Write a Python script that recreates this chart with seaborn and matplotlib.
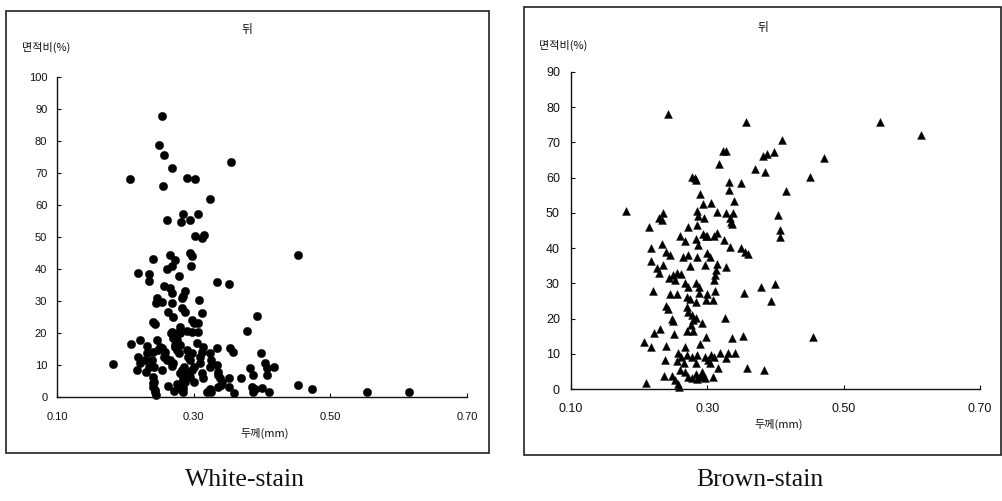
import matplotlib
matplotlib.use("Agg")
import matplotlib.pyplot as plt
import seaborn as sns
import pandas as pd
from matplotlib.patches import Rectangle

# ---------------- data ----------------
white_x = [0.254,0.250,0.257,0.268,0.354,0.207,0.290,0.302,0.255,0.324,0.285,0.307,0.261,0.282,0.295,
           0.302,0.312,0.315,0.266,0.294,0.297,0.453,0.240,0.272,0.268,0.261,0.296,0.235,0.235,0.218,
           0.278,0.334,0.351,0.257,0.265,0.268,0.287,0.284,0.283,0.246,0.245,0.253,0.308,0.268,0.283,
           0.287,0.263,0.312,0.270,0.297,0.300,0.307,0.392,0.240,0.243,0.378,0.280,0.279,0.290,0.297,
           0.268,0.307,
           0.182,0.208,0.221,0.217,0.219,0.221,0.231,0.230,0.231,0.229,0.234,0.247,0.251,0.240,0.239,
           0.242,0.242,0.241,0.244,0.245,0.248,0.253,0.258,0.261,0.254,0.257,0.258,0.265,0.268,0.270,
           0.267,0.270,0.275,0.273,0.280,0.280,0.275,0.278,0.280,0.284,0.286,0.280,0.284,0.283,0.285,
           0.287,0.290,0.283,0.290,0.292,0.295,0.297,0.300,0.292,0.295,0.297,0.300,0.305,0.309,0.312,
           0.314,0.309,0.312,0.314,0.324,0.326,0.334,0.324,0.334,0.335,0.336,0.339,0.341,0.340,0.353,
           0.358,0.351,0.351,0.359,0.324,0.319,0.326,0.336,0.370,0.383,0.387,0.399,0.405,0.407,0.408,
           0.417,0.385,0.390,0.387,0.400,0.410,0.453,0.473,0.554,0.615,0.241,0.240,0.243,0.273,0.285,
           0.263,0.271,0.276]
white_y = [87.9,78.7,75.5,71.6,73.5,68.1,68.3,68.1,66.0,61.9,57.3,57.3,55.4,54.7,55.4,
           50.2,49.6,50.6,44.4,45.0,44.2,44.4,43.0,42.8,41.0,40.0,41.0,38.4,36.2,38.8,
           37.8,35.9,35.3,34.7,34.0,32.4,33.2,31.7,30.8,30.8,29.3,29.8,30.3,29.3,27.7,
           26.7,26.7,26.2,25.1,24.1,23.0,23.2,25.3,23.5,22.8,20.7,22.0,20.4,20.7,20.4,
           20.4,20.4,
           10.2,16.5,17.8,8.4,12.6,10.5,15.9,7.7,13.6,11.6,9.5,17.8,15.7,14.2,11.6,
           9.5,4.8,3.2,1.7,0.6,14.7,15.2,12.6,11.6,8.4,12.6,14.2,11.6,9.8,10.5,
           19.9,18.3,17.8,15.7,16.3,19.9,14.7,13.6,7.4,5.3,9.5,2.7,1.7,8.4,6.4,
           4.8,6.9,2.2,14.7,12.6,11.6,13.6,9.5,7.4,6.4,8.4,4.8,16.8,12.6,14.2,
           15.7,10.5,7.4,5.8,13.6,11.6,15.2,9.5,10.0,7.9,6.9,5.8,4.8,3.75,15.2,
           14.2,5.8,3.2,1.2,2.4,1.7,1.7,3.2,6.0,9.0,6.9,13.9,10.5,9.0,6.9,
           9.3,3.2,2.4,1.7,2.7,1.7,3.75,2.4,1.7,1.7,6.4,4.3,2.2,16.3,2.7,
           3.5,2.0,4.0]

brown_x = [0.242,0.357,0.553,0.614,0.409,0.323,0.328,0.382,0.388,0.398,0.471,0.317,0.370,0.384,0.278,
           0.282,0.284,0.451,0.332,0.349,0.332,0.416,0.289,0.339,0.294,0.306,0.180,0.285,0.314,0.235,
           0.328,0.338,0.403,0.229,0.233,0.287,0.295,0.333,0.335,0.215,0.271,0.285,0.336,0.407,0.406,
           0.260,0.267,0.283,0.293,0.298,0.300,0.310,0.314,0.325,0.233,0.218,0.286,0.333,0.350,0.355,
           0.360,0.240,0.245,0.264,0.272,0.285,0.300,0.304,0.218,0.235,0.226,0.229,0.274,0.296,0.314,
           0.313,0.311,0.310,0.328,0.244,0.250,0.256,0.262,0.252,0.267,0.272,0.284,0.288,0.221,0.245,
           0.256,0.270,0.275,0.283,0.288,0.300,0.311,0.298,0.308,0.354,0.378,0.399,0.393,0.239,0.243,
           0.270,0.272,0.248,0.250,0.277,0.279,0.283,0.292,0.276,0.279,0.270,0.326,0.230,0.222,0.251,
           0.298,0.289,0.336,0.352,0.455,0.207,0.218,0.240,0.267,0.257,0.262,0.270,0.277,0.285,0.296,
           0.301,0.306,0.310,0.318,0.331,0.340,0.238,0.255,0.266,0.284,0.304,0.315,0.327,0.358,0.383,
           0.260,0.267,0.272,0.277,0.284,0.289,0.292,0.294,0.296,0.285,0.309,0.237,0.248,0.252,0.257,
           0.259,0.210]
brown_y = [78.0,75.8,75.8,72.2,70.7,67.6,67.6,66.2,66.7,67.2,65.7,63.8,62.4,61.6,60.3,
           59.9,59.4,60.1,58.9,58.6,56.5,56.1,55.3,53.3,52.6,52.8,50.4,50.4,50.2,49.9,
           49.9,50.1,49.4,48.5,48.0,49.0,48.5,48.5,47.3,46.1,46.1,46.6,46.9,45.2,43.1,
           43.5,42.1,42.5,44.0,43.3,43.3,43.5,44.4,42.3,41.2,39.9,40.8,40.4,40.0,39.0,
           38.4,39.0,38.1,37.6,38.1,37.6,38.5,37.6,36.4,35.2,34.3,32.9,34.9,35.2,35.5,
           33.8,32.4,31.0,34.7,31.4,32.4,33.0,32.7,31.0,30.2,29.1,30.0,29.1,27.8,26.9,
           26.9,26.2,25.5,24.8,27.2,27.0,27.8,25.3,25.3,27.2,28.9,29.7,25.1,23.6,22.6,
           23.4,22.0,19.8,19.4,21.0,19.6,20.1,18.8,18.2,16.6,16.6,20.1,17.0,16.0,15.6,
           14.9,12.8,14.4,15.1,14.7,13.3,12.0,12.2,11.8,10.1,9.2,9.7,9.2,9.7,9.2,
           8.2,9.7,9.2,10.1,10.1,10.1,8.2,8.0,7.3,7.3,7.3,5.9,8.7,6.1,5.4,
           5.4,4.9,3.5,3.0,4.4,3.5,4.9,4.0,3.0,2.8,3.5,3.7,3.7,2.6,1.4,
           0.7,1.8]

x_ticks = [0.10, 0.30, 0.50, 0.70]
x_tick_labels = ["0.10", "0.30", "0.50", "0.70"]
white_y_ticks = list(range(0, 101, 10))
brown_y_ticks = list(range(0, 91, 10))
panel_title = "뒤"
y_label = "면적비(%)"
x_label = "두께(mm)"
captions = ["White-stain", "Brown-stain"]

# ---------------- figure ----------------
sns.set_theme(style="white")
plt.rcParams['font.family'] = ['Liberation Sans', 'Noto Sans CJK KR', 'DejaVu Sans']

W, H = 1003, 501
fig = plt.figure(figsize=(W / 100, H / 100), dpi=100)
fig.patch.set_facecolor("white")

def px_axes(x0, y0, x1, y1):
    return fig.add_axes([x0 / W, 1 - y1 / H, (x1 - x0) / W, (y1 - y0) / H])

def frame(x0, y0, x1, y1):
    fig.patches.append(Rectangle((x0 / W, 1 - y1 / H), (x1 - x0) / W, (y1 - y0) / H,
                                 transform=fig.transFigure, fill=False,
                                 edgecolor="#222222", linewidth=1.2))

cjk = ['Noto Sans CJK KR', 'DejaVu Sans']

def style_axes(ax, yticks, ymax, ypad, xpad, fs):
    ax.set_xlim(0.10, 0.70)
    ax.set_ylim(0, ymax)
    ax.set_xticks(x_ticks)
    ax.set_xticklabels(x_tick_labels)
    ax.set_yticks(yticks)
    ax.set_yticklabels([str(v) for v in yticks])
    for s in ["top", "right"]:
        ax.spines[s].set_visible(False)
    for s in ["left", "bottom"]:
        ax.spines[s].set_color("#111111")
        ax.spines[s].set_linewidth(1.0)
    ax.tick_params(axis="y", direction="in", length=3, width=0.8, pad=ypad,
                   labelsize=fs, colors="#111111", left=True)
    ax.tick_params(axis="x", direction="in", length=3, width=0.8, pad=xpad,
                   labelsize=fs, colors="#111111", bottom=True)
    ax.set_xlabel("")
    ax.set_ylabel("")
    ax.set_facecolor("white")
    ax.grid(False)

# Left panel (White-stain)
frame(6, 11, 489, 453)
axL = px_axes(57, 77, 467, 397)
dfL = pd.DataFrame({"x": white_x, "y": white_y})
sns.scatterplot(data=dfL, x="x", y="y", ax=axL, color="black", marker="o",
                s=36, edgecolor="black", linewidth=0.3, clip_on=False)
style_axes(axL, white_y_ticks, 100, 7, 11, 8)

# Right panel (Brown-stain)
frame(524, 7, 1001, 455)
axR = px_axes(571, 72, 980, 389)
dfR = pd.DataFrame({"x": brown_x, "y": brown_y})
sns.scatterplot(data=dfR, x="x", y="y", ax=axR, color="black", marker="^",
                s=32, edgecolor="black", linewidth=0.3, clip_on=False)
style_axes(axR, brown_y_ticks, 90, 8, 10, 9)

# Texts
def ftext(x, y, s, size, family=cjk, **kw):
    fig.text(x / W, 1 - y / H, s, fontsize=size, family=family,
             ha="center", va="center", color="#111111", **kw)

ftext(247, 30, panel_title, 8.5)
ftext(763, 28, panel_title, 8.5)
ftext(46, 47, y_label, 8)
ftext(563, 45, y_label, 8)
ftext(265, 433, x_label, 8)
ftext(779, 424, x_label, 8)
ftext(245, 480, captions[0], 18.5, family=['Liberation Serif', 'DejaVu Serif'])
ftext(760, 480, captions[1], 18.5, family=['Liberation Serif', 'DejaVu Serif'])

fig.savefig("out.png", dpi=100, facecolor="white")
